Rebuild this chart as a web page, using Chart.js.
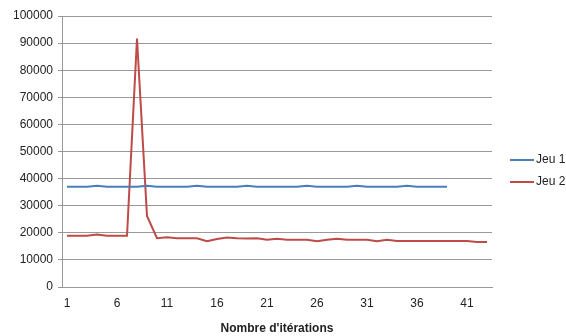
<!DOCTYPE html>
<html>
<head>
<meta charset="utf-8">
<script src="https://cdn.jsdelivr.net/npm/chart.js@4/dist/chart.umd.min.js"></script>
<style>
	html, body { margin: 0; padding: 0; background: #fff; }
	#wrap { width: 566px; height: 336px; }
</style>
</head>
<body>
<div id="wrap"><canvas id="chart" width="566" height="336"></canvas></div>
<script>
// itérations 1..43
const iterations = [1,2,3,4,5,6,7,8,9,10,11,12,13,14,15,16,17,18,19,20,21,22,23,24,25,26,27,28,29,30,31,32,33,34,35,36,37,38,39,40,41,42,43];

const jeu1 = [37000,37000,37000,37400,37000,37000,37000,37000,37400,37000,
	37000,37000,37000,37400,37000,37000,37000,37000,37400,37000,
	37000,37000,37000,37000,37400,37000,37000,37000,37000,37400,
	37000,37000,37000,37000,37400,37000,37000,37000,37000];

const jeu2 = [18900,18900,18900,19400,18900,18900,18900,91700,26200,18000,
	18400,18000,18000,18000,16900,17700,18300,18000,17900,18000,
	17400,17800,17400,17400,17400,16900,17400,17800,17400,17400,
	17400,16900,17400,17000,17000,17000,17000,17000,17000,17000,
	17000,16600,16600];

const yTicks = [0,10000,20000,30000,40000,50000,60000,70000,80000,90000,100000];

const seriesNames = ['Jeu 1', 'Jeu 2'];
const seriesColors = ['#4a7ebb', '#be4b48'];

Chart.defaults.font.family = 'Arial, "Liberation Sans", sans-serif';
Chart.defaults.font.size = 12;
Chart.defaults.color = '#222';

// légende à droite, dessinée à la main
const sideLegend = {
	id: 'sideLegend',
	afterDraw(chart) {
		const ctx = chart.ctx;
		const x0 = 510, y0 = 160, gap = 22;
		ctx.save();
		chart.data.datasets.forEach((ds, i) => {
			const y = y0 + i * gap;
			ctx.strokeStyle = ds.borderColor;
			ctx.lineWidth = 2;
			ctx.beginPath();
			ctx.moveTo(x0, y);
			ctx.lineTo(x0 + 24, y);
			ctx.stroke();
			ctx.fillStyle = '#222';
			ctx.font = '12px Arial, "Liberation Sans", sans-serif';
			ctx.textBaseline = 'middle';
			ctx.textAlign = 'left';
			ctx.fillText(ds.label, x0 + 26, y);
		});
		ctx.restore();
	}
};

const config = {
	type: 'line',
	data: {
		labels: iterations,
		datasets: [
			{
				label: seriesNames[0],
				data: jeu1,
				borderColor: seriesColors[0],
				backgroundColor: seriesColors[0],
				borderWidth: 2,
				pointRadius: 0,
				tension: 0,
			},
			{
				label: seriesNames[1],
				data: jeu2,
				borderColor: seriesColors[1],
				backgroundColor: seriesColors[1],
				borderWidth: 2,
				pointRadius: 0,
				tension: 0,
			},
		]
	},
	options: {
		responsive: false,
		animation: false,
		layout: {
			padding: { top: 16, right: 74, left: 0, bottom: 0 }
		},
		plugins: {
			legend: { display: false },
			tooltip: { enabled: false },
		},
		scales: {
			x: {
				offset: true,
				grid: { display: false, drawTicks: false },
				border: { display: true, color: '#999', width: 1 },
				ticks: {
					autoSkip: false,
					maxRotation: 0,
					padding: 9,
					callback: function(val, idx) {
						return (idx % 5 === 0) ? iterations[idx] : '';
					}
				},
				title: {
					display: true,
					text: "Nombre d'itérations",
					font: { weight: 'bold', size: 12 },
					padding: { top: 6, bottom: 0 },
				},
				afterFit: function(scale) { scale.height = 49; },
			},
			y: {
				min: 0,
				max: 100000,
				afterBuildTicks: function(scale) {
					scale.ticks = yTicks.map(v => ({ value: v }));
				},
				grid: { color: '#999', lineWidth: 1, tickLength: 4 },
				border: { display: true, color: '#999', width: 1 },
				ticks: {
					padding: 5,
					callback: function(val) { return String(val); }
				},
				afterFit: function(scale) { scale.width = 62; },
			}
		}
	},
	plugins: [sideLegend]
};

const myChart = new Chart(document.getElementById('chart').getContext('2d'), config);
</script>
</body>
</html>
